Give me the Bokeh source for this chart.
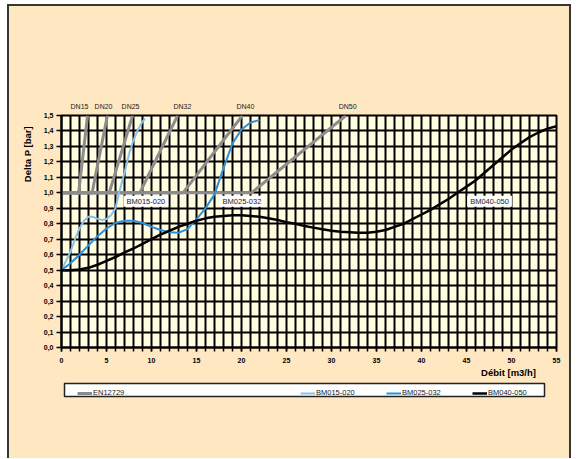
from bokeh.plotting import figure
from bokeh.models import (Range1d, SingleIntervalTicker, FixedTicker, CustomJSTickFormatter, Label,
                          Legend, LegendItem, LinearAxis)
from bokeh.layouts import column
from bokeh.embed import file_html
from bokeh.resources import INLINE

# ---------------- data ----------------
dn_names = ["DN15", "DN20", "DN25", "DN32", "DN40", "DN50"]
dn_x_start = [1.9, 3.4, 5.3, 8.7, 13.5, 21.1]
dn_x_end = [2.9, 5.1, 7.9, 12.9, 20.1, 31.6]
dn_label_x = [2.0, 4.67, 7.67, 13.44, 20.44, 31.8]
en_base = 1.0
en_top = 1.5

bm015_x = [0, 0.5, 1, 1.5, 2, 2.5, 3, 3.5, 4, 4.5, 5, 5.5, 6, 6.4, 7, 7.5, 8, 8.5, 9, 9.3]
bm015_y = [0.5, 0.56, 0.62, 0.7, 0.77, 0.82, 0.845, 0.845, 0.832, 0.825, 0.83, 0.855, 0.9, 1.0,
           1.13, 1.25, 1.34, 1.41, 1.46, 1.48]

bm025_x = list(range(0, 23))
bm025_y = [0.5, 0.545, 0.6, 0.66, 0.72, 0.77, 0.805, 0.82, 0.82, 0.805, 0.78, 0.76, 0.745,
           0.742, 0.765, 0.83, 0.9, 0.99, 1.16, 1.32, 1.41, 1.455, 1.47]

bm040_x = list(range(0, 56))
bm040_y = [0.50, 0.50, 0.505, 0.515, 0.535, 0.56, 0.585, 0.615, 0.64, 0.67, 0.70, 0.73, 0.755,
           0.78, 0.80, 0.82, 0.835, 0.845, 0.85, 0.855, 0.855, 0.85, 0.845, 0.835, 0.825, 0.81,
           0.80, 0.785, 0.775, 0.765, 0.755, 0.748, 0.745, 0.742, 0.742, 0.748, 0.76, 0.78, 0.80,
           0.83, 0.86, 0.89, 0.925, 0.96, 1.0, 1.04, 1.08, 1.13, 1.18, 1.23, 1.28, 1.32, 1.36,
           1.39, 1.415, 1.43]

series_names = ["EN12729", "BM015-020", "BM025-032", "BM040-050"]
tag_text = ["BM015-020", "BM025-032", "BM040-050"]
tag_x = [6.89, 17.56, 45.07]
tag_y = [0.945, 0.945, 0.945]

x_title = "Débit [m3/h]"
x_title_pos = 49.67
y_title = "Delta P [bar]"
y_title_pos = 1.25

# ---------------- style ----------------
OUTER = "#FFE7C1"
INNER = "#FFFCDF"
GRAY = "#8C8C8C"
LBLUE = "#88C2EC"
BLUE = "#2D8FD8"
FONT = "Liberation Sans"
W = 560
BL, BR = 52, 13

p = figure(width=W, height=374, output_backend="svg", toolbar_location=None,
           x_range=Range1d(0, 55), y_range=Range1d(0, 1.5),
           min_border_left=BL, min_border_right=BR, min_border_top=109, min_border_bottom=33,
           background_fill_color=INNER, border_fill_color=OUTER)

p.outline_line_color = "black"
p.outline_line_width = 2

# grid
p.xgrid.ticker = SingleIntervalTicker(interval=1)
p.ygrid.ticker = SingleIntervalTicker(interval=0.1)
for g in (p.xgrid[0], p.ygrid[0]):
    g.grid_line_color = "black"
    g.grid_line_width = 2

# axes
xa = p.xaxis[0]
xa.ticker = SingleIntervalTicker(interval=5, num_minor_ticks=5)
xa.major_tick_out = 4
xa.major_tick_in = 0
xa.minor_tick_out = 4
xa.minor_tick_in = 0
xa.minor_tick_line_color = "black"
xa.major_tick_line_color = "black"
xa.major_tick_line_width = 1.5
xa.minor_tick_line_width = 1.5
xa.axis_line_color = "black"
xa.axis_line_width = 2
xa.major_label_text_font = FONT
xa.major_label_text_font_style = "bold"
xa.major_label_text_font_size = "7px"
xa.major_label_text_color = "black"
xa.major_label_standoff = 6

ya = p.yaxis[0]
ya.ticker = SingleIntervalTicker(interval=0.1, num_minor_ticks=0)
ya.formatter = CustomJSTickFormatter(code="return tick.toFixed(1).replace('.', ',');")
ya.major_tick_out = 5
ya.major_tick_in = 0
ya.minor_tick_out = 0
ya.minor_tick_in = 0
ya.major_tick_line_color = "black"
ya.major_tick_line_width = 1.5
ya.axis_line_color = "black"
ya.axis_line_width = 2
ya.major_label_text_font = FONT
ya.major_label_text_font_style = "bold"
ya.major_label_text_font_size = "7px"
ya.major_label_text_color = "black"
ya.major_label_standoff = 3


def text_axis(ticks, formatter, size, bold, standoff, orientation="horizontal"):
    ax = LinearAxis(ticker=FixedTicker(ticks=ticks), formatter=formatter)
    ax.axis_line_color = None
    ax.major_tick_line_color = None
    ax.minor_tick_line_color = None
    ax.major_tick_out = 0
    ax.major_tick_in = 0
    ax.minor_tick_out = 0
    ax.minor_tick_in = 0
    ax.major_label_text_font = FONT
    ax.major_label_text_font_size = size
    ax.major_label_text_font_style = "bold" if bold else "normal"
    ax.major_label_text_color = "black" if bold else "#222222"
    ax.major_label_standoff = standoff
    ax.major_label_orientation = orientation
    return ax


# DN labels along the top
p.add_layout(text_axis(dn_label_x, CustomJSTickFormatter(args=dict(names=dn_names),
                                                          code="return names[index];"),
                       "7px", False, 6), "above")
# axis titles
p.add_layout(text_axis([x_title_pos], CustomJSTickFormatter(args=dict(t=x_title),
                                                             code="return t;"),
                       "9.5px", True, 1), "below")
p.add_layout(text_axis([y_title_pos], CustomJSTickFormatter(args=dict(t=y_title),
                                                             code="return t;"),
                       "9.5px", True, 7, "parallel"), "left")

# ---------------- series ----------------
en_xs = [[0, xs, xe] for xs, xe in zip(dn_x_start, dn_x_end)]
en_ys = [[en_base, en_base, en_top] for _ in dn_x_start]
p.multi_line(en_xs, en_ys, line_color=GRAY, line_width=3)
p.line(bm015_x, bm015_y, line_color=LBLUE, line_width=2)
p.line(bm025_x, bm025_y, line_color=BLUE, line_width=2)
p.line(bm040_x, bm040_y, line_color="black", line_width=2.5)

# series tags
for t, tx, ty in zip(tag_text, tag_x, tag_y):
    p.add_layout(Label(x=tx, y=ty, text=t, text_align="left", text_baseline="middle",
                       text_font=FONT, text_font_size="7.5px", text_color="#222222",
                       background_fill_color="white", padding=(3, 1)))

# ---------------- legend strip (frame aligned with main frame) ----------------
LH = 78
FL = 10 + BL                 # page x of frame left
FR = 10 + W - BR             # page x of frame right
q = figure(width=W, height=LH, output_backend="svg", toolbar_location=None,
           x_range=Range1d(FL, FR), y_range=Range1d(LH, 0),
           x_axis_type=None, y_axis_type=None,
           min_border_left=BL, min_border_right=BR, min_border_top=0, min_border_bottom=0,
           background_fill_color=OUTER, border_fill_color=OUTER)
q.grid.visible = False
q.outline_line_color = None

q.quad(left=[65], right=[545], top=[3], bottom=[16], fill_color="white",
       line_color="#222222", line_width=1.5)

l_en = q.line([-100, -90], [200, 200], line_color=GRAY, line_width=3)
l_15 = q.line([-100, -90], [200, 200], line_color=LBLUE, line_width=2)
l_25 = q.line([-100, -90], [200, 200], line_color=BLUE, line_width=2)
l_40 = q.line([-100, -90], [200, 200], line_color="black", line_width=2.5)

common = dict(orientation="horizontal", glyph_width=15, glyph_height=8, label_height=8,
              label_standoff=1, padding=3, border_line_color=None,
              background_fill_alpha=0, label_text_font=FONT, label_text_font_size="7.5px",
              label_text_color="#222222", margin=0)
leg_a = Legend(items=[LegendItem(label=series_names[0], renderers=[l_en])],
               location=(81 - 3 - FL, 61), **common)
leg_b = Legend(items=[LegendItem(label=series_names[1], renderers=[l_15]),
                      LegendItem(label=series_names[2], renderers=[l_25]),
                      LegendItem(label=series_names[3], renderers=[l_40])],
               location=(304 - 3 - FL, 61), label_width=55, spacing=15, **common)
q.add_layout(leg_a)
q.add_layout(leg_b)

layout = column(p, q, spacing=0)
layout.styles = {"border-top": "2px solid #363636", "border-left": "2px solid #363636",
                 "border-right": "2px solid #363636", "margin-top": "4px",
                 "margin-left": "7px", "background-color": OUTER}

open("out.html", "w").write(file_html(layout, INLINE))
